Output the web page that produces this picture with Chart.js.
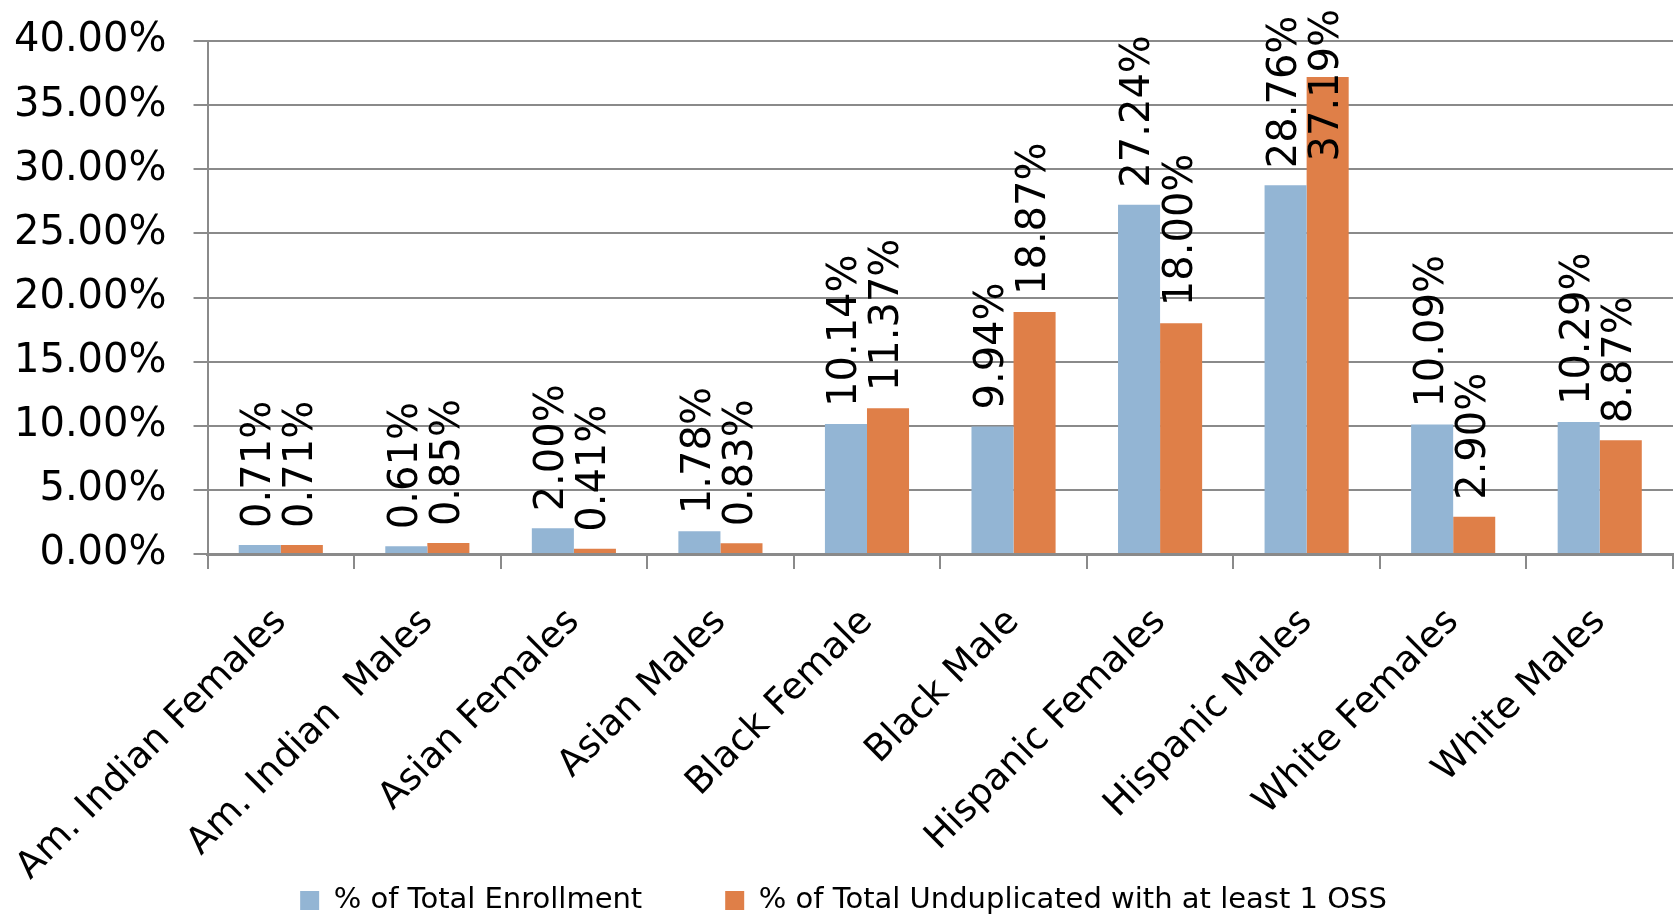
<!DOCTYPE html>
<html>
<head>
<meta charset="utf-8">
<script src="https://cdn.jsdelivr.net/npm/chart.js@4"></script>
<style>
  html, body { margin: 0; padding: 0; background: #fff; }
  #wrap { width: 1676px; height: 917px; }
</style>
</head>
<body>
<div id="wrap"><canvas id="oss"></canvas></div>
<script>
const categories = [
    'Am. Indian Females', 'Am. Indian  Males', 'Asian Females', 'Asian Males',
    'Black Female', 'Black Male', 'Hispanic Females', 'Hispanic Males',
    'White Females', 'White Males'
];
const enrollment = [0.71, 0.61, 2.00, 1.78, 10.14, 9.94, 27.24, 28.76, 10.09, 10.29];
const withOss = [0.71, 0.85, 0.41, 0.83, 11.37, 18.87, 18.00, 37.19, 2.90, 8.87];
const seriesNames = ['% of Total Enrollment', '% of Total Unduplicated with at least 1 OSS'];
const yTicks = [0, 5, 10, 15, 20, 25, 30, 35, 40];

const FONT = "'DejaVu Sans'";
const GRID = '#8a8a8a';

// rotated value labels above each bar, pushed down when they would leave the canvas
const barLabels = {
    id: 'barLabels',
    afterDatasetsDraw(chart) {
        const ctx = chart.ctx;
        ctx.save();
        ctx.font = `40px ${FONT}`;
        ctx.fillStyle = '#000';
        ctx.textAlign = 'left';
        ctx.textBaseline = 'middle';
        chart.data.datasets.forEach((ds, di) => {
            chart.getDatasetMeta(di).data.forEach((bar, i) => {
                const text = ds.data[i].toFixed(2) + '%';
                const w = ctx.measureText(text).width;
                let start = bar.y - 17;
                if (start - w < 9) start = 9 + w;
                ctx.save();
                ctx.translate(bar.x, start);
                ctx.rotate(-Math.PI / 2);
                ctx.fillText(text, 0, 0);
                ctx.restore();
            });
        });
        ctx.restore();
    }
};

new Chart(document.getElementById('oss'), {
    type: 'bar',
    data: {
        labels: categories,
        datasets: [
            { label: seriesNames[0], data: enrollment, backgroundColor: '#93b5d4', borderWidth: 0 },
            { label: seriesNames[1], data: withOss, backgroundColor: '#df7f48', borderWidth: 0 }
        ]
    },
    options: {
        responsive: true,
        maintainAspectRatio: false,
        animation: false,
        categoryPercentage: 0.574,
        barPercentage: 1.0,
        layout: { padding: { top: 41, left: 14, right: 3, bottom: -8 } },
        scales: {
            x: {
                grid: { offset: true, drawOnChartArea: false, color: GRID, lineWidth: 2, tickLength: 15, tickWidth: 2 },
                border: { color: GRID, width: 3 },
                ticks: {
                    color: '#000',
                    font: { family: FONT, size: 37, lineHeight: 1.0 },
                    minRotation: 45,
                    maxRotation: 45,
                    autoSkip: false,
                    padding: 34
                },
                // labels may run past the left edge of the plot, like the original
                afterFit: axis => {
                    axis.paddingLeft = 0;
                    axis.height = 332;
                }
            },
            y: {
                min: yTicks[0],
                max: yTicks[yTicks.length - 1],
                afterBuildTicks: axis => { axis.ticks = yTicks.map(v => ({ value: v })); },
                grid: { color: GRID, lineWidth: 2, tickLength: 14 },
                border: { color: GRID, width: 2 },
                ticks: {
                    color: '#000',
                    font: { family: FONT, size: 40 },
                    padding: 27,
                    callback: v => v.toFixed(2) + '%'
                },
                // chart.js counts tick padding twice; keep the axis tight
                afterFit: axis => {
                    axis.width -= 27;
                    axis.paddingTop = 0;
                    axis.paddingBottom = 0;
                }
            }
        },
        plugins: {
            tooltip: { enabled: false },
            legend: {
                position: 'bottom',
                labels: {
                    color: '#000',
                    font: { family: FONT, size: 29 },
                    boxWidth: 19,
                    boxHeight: 19,
                    padding: 0,
                    generateLabels: chart => Chart.defaults.plugins.legend.labels.generateLabels(chart).map((item, i) => {
                        if (i === 0) item.text += '         ';
                        return item;
                    })
                }
            }
        }
    },
    plugins: [barLabels]
});
</script>
</body>
</html>
